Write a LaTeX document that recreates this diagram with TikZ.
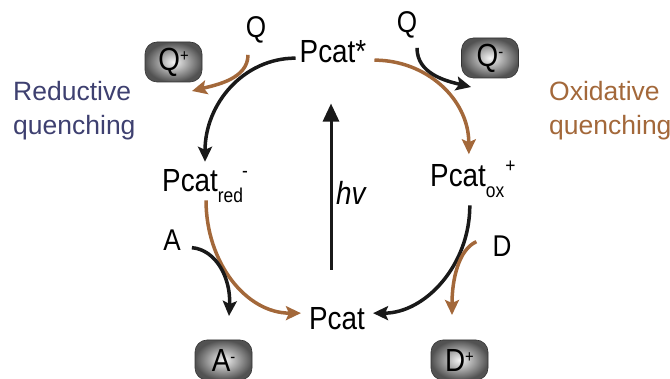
\documentclass[tikz,border=0pt]{standalone}
\usepackage{fontspec}
\setmainfont{Liberation Sans}
\newfontfamily\spfont[FakeStretch=0.87]{Liberation Sans}
\usetikzlibrary{arrows.meta}
\definecolor{arcbrown}{RGB}{163,104,58}
\definecolor{quenchblue}{RGB}{62,64,112}
\definecolor{arcblack}{RGB}{25,25,25}
% sub- and superscripts of the species labels
\newcommand{\lowtxt}[1]{\raisebox{-11pt}{\fontsize{20}{20}\selectfont #1}}
\newcommand{\hightxt}[1]{\raisebox{14pt}{\fontsize{20}{20}\selectfont #1}}
\newcommand{\boxsup}[1]{\raisebox{9pt}{\fontsize{17}{17}\selectfont #1}}

\begin{document}
\begin{tikzpicture}[
    x=1pt, y=-1pt,
    species/.style={font=\spfont\fontsize{32}{32}\selectfont, inner sep=0pt},
    reagent/.style={font=\spfont\fontsize{30}{30}\selectfont, inner sep=0pt},
    ion/.style={rectangle, rounded corners=12pt, draw=black!80, line width=0.6pt,
                inner color=gray!8, outer color=black!68,
                minimum width=57pt, minimum height=40pt, inner sep=0pt,
                font=\spfont\fontsize{32}{32}\selectfont},
    mode/.style={font=\fontsize{26.5}{34}\selectfont, align=left,
                 inner sep=0pt, anchor=north west},
    blk/.style={draw=arcblack, line width=3.5pt,
                -{Stealth[length=15pt, width=14pt, inset=3pt]}},
    brn/.style={blk, draw=arcbrown},
    hvline/.style={draw=arcblack, line width=3pt,
                   -{Triangle[length=18pt, width=16pt]}}
]
\useasboundingbox (0,0) rectangle (670,379);

% catalyst states
\node[species, anchor=base] (pstar) at (333,63) {Pcat*};
\node[species, anchor=base] (pcat) at (337,330) {Pcat};
\node[species, anchor=base west] (pred) at (162,192)
    {Pcat\lowtxt{red}\kern-1pt\hightxt{-}};
\node[species, anchor=base west] (pox) at (430,187)
    {Pcat\lowtxt{ox}\kern1pt\hightxt{+}};
\node[species, anchor=base west, font=\spfont\itshape\fontsize{32}{32}\selectfont]
    (hv) at (336,205) {hv};

% quenchers, donor, acceptor
\node[reagent, anchor=base] (qleft) at (256,38) {Q};
\node[reagent, anchor=base] (qright) at (407,33) {Q};
\node[reagent, anchor=base] (aacc) at (172,251) {A};
\node[reagent, anchor=base] (ddon) at (502,257) {D};

\node[ion] (qplus) at (173.5,62) {Q\boxsup{+}};
\node[ion] (qminus) at (490,58) {Q\boxsup{-}};
\node[ion] (aminus) at (223.5,360) {A\boxsup{-}};
\node[ion] (dplus) at (459.5,360) {D\boxsup{+}};

\node[mode, text=quenchblue] (redlab) at (13,81) {Reductive\\quenching};
\node[mode, text=arcbrown] (oxlab) at (549,81) {Oxidative\\quenching};

\coordinate (qplustip) at (192,91);
\coordinate (qminustip) at (471,87);
\coordinate (aminustip) at (229,316);
\coordinate (dplustip) at (452,315);

% cycle
\draw[blk] ([shift={(-4,6)}]pstar.west) .. controls +(-52,0) and +(0,-58)
    .. ([shift={(0,-8)}]pred.north);
\draw[brn] ([shift={(8,8)}]pstar.east) .. controls +(52,0) and +(0,-55)
    .. ([shift={(-4,-7)}]pox.north);
\draw[brn] ([shift={(1,-3)}]pred.south) .. controls +(0,62) and +(-55,0)
    .. ([shift={(-8,-6)}]pcat.west);
\draw[blk] ([shift={(-3,7)}]pox.south) .. controls +(0,60) and +(52,0)
    .. ([shift={(8,-6)}]pcat.east);
\draw[hvline] ([shift={(-6,-38)}]pcat.north) -- ([shift={(-2,40)}]pstar.south);

% electron transfer side arrows
\draw[brn] ([shift={(-8,11)}]qleft.south) .. controls +(0,24) and +(24,-6) .. (qplustip);
\draw[blk] ([shift={(10,9)}]qright.south) .. controls +(0,26) and +(-25,-6) .. (qminustip);
\draw[blk] ([shift={(11,7)}]aacc.east) .. controls +(24,2) and +(2,-38) .. (aminustip);
\draw[brn] ([shift={(-16,-5)}]ddon.west) .. controls +(-18,8) and +(0,-35) .. (dplustip);
\end{tikzpicture}
\end{document}
